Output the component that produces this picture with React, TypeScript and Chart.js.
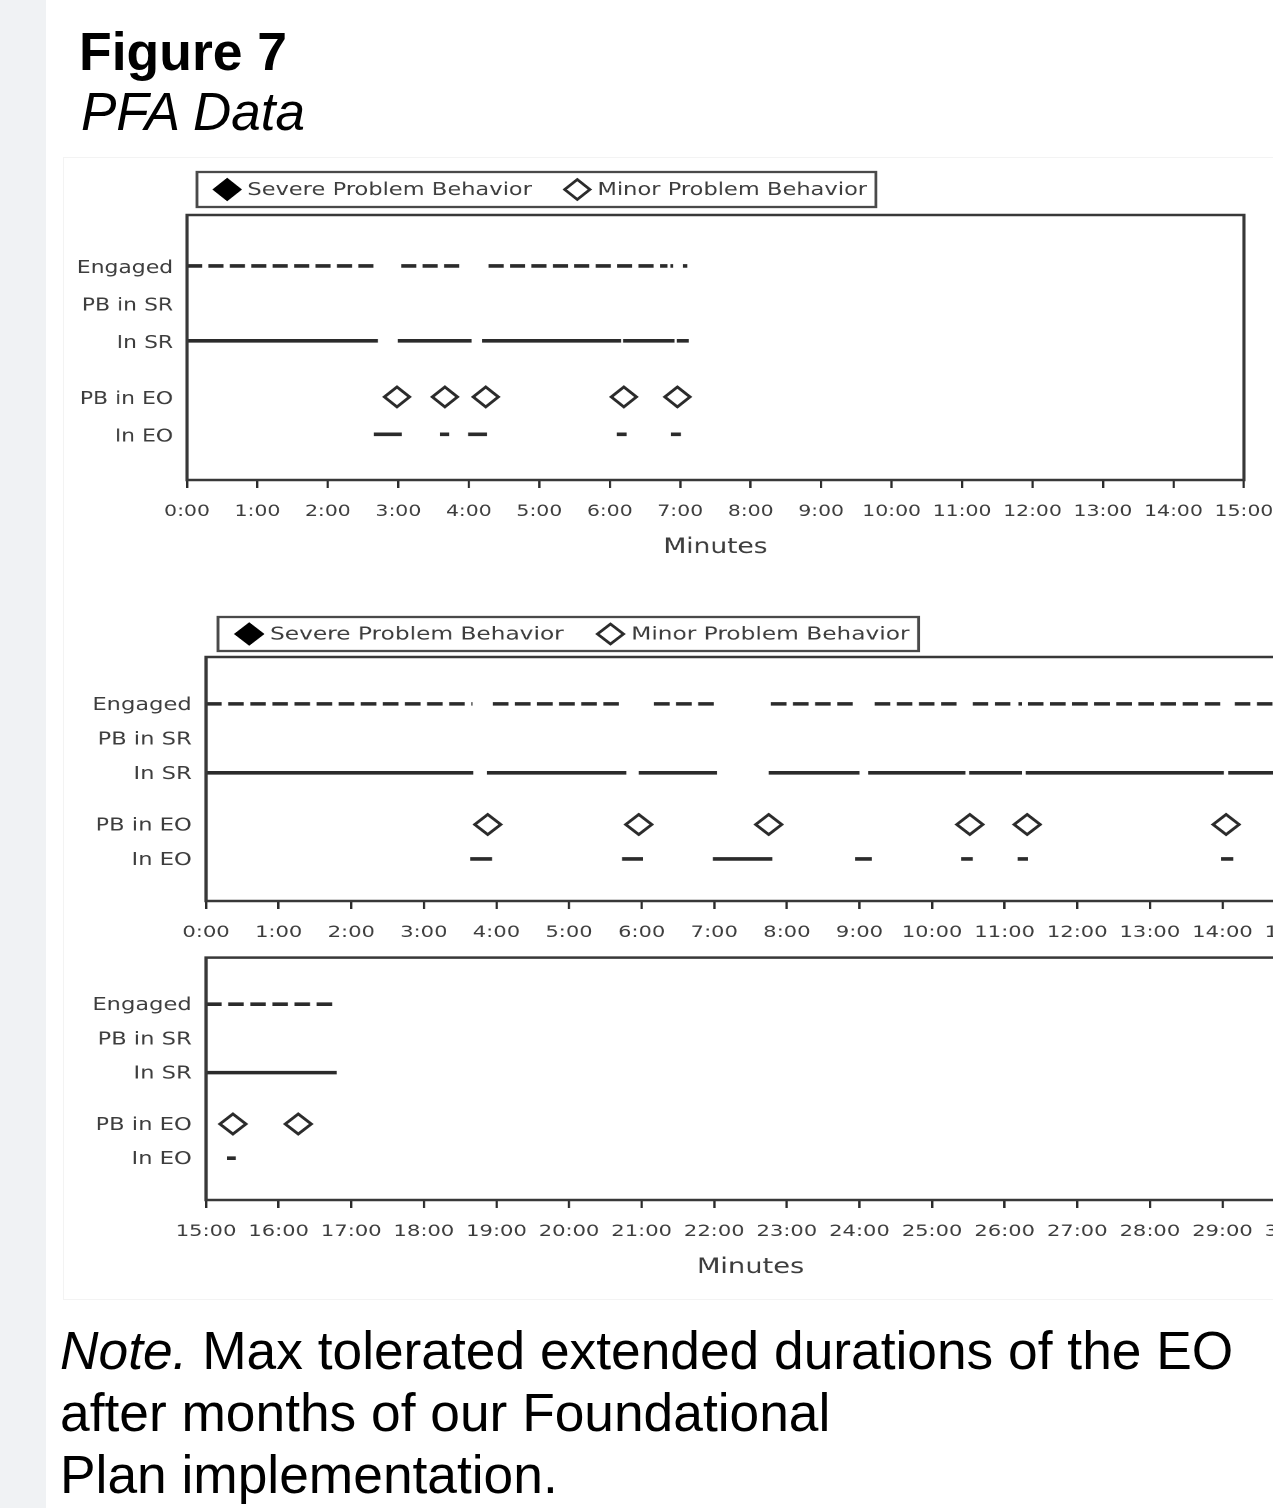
import React, { useEffect, useRef } from 'react';
import { Chart, registerables } from 'chart.js';

Chart.register(...registerables);

// ---------------- data ----------------
const ROW_LABELS = ['Engaged', 'PB in SR', 'In SR', 'PB in EO', 'In EO'];
const ROW_VALUES = [5, 4, 3, 1.5, 0.5];
const LEGEND_LABELS = ['Severe Problem Behavior', 'Minor Problem Behavior'];
const AXIS_TITLE = 'Minutes';

// Panel A: 0:00 - 15:00
const A_X_VALUES = [0, 1, 2, 3, 4, 5, 6, 7, 8, 9, 10, 11, 12, 13, 14, 15];
const A_X_LABELS = ['0:00', '1:00', '2:00', '3:00', '4:00', '5:00', '6:00', '7:00', '8:00', '9:00', '10:00', '11:00', '12:00', '13:00', '14:00', '15:00'];
const A_ENGAGED = [[0, 2.68], [3.04, 3.93], [4.28, 6.82], [6.86, 6.9], [7.04, 7.1]];
const A_PB_IN_SR: number[] = [];
const A_IN_SR = [[0, 2.71], [2.99, 4.04], [4.19, 6.16], [6.19, 6.92], [6.95, 7.12]];
const A_SEVERE: number[] = [];
const A_PB_IN_EO = [2.98, 3.66, 4.24, 6.2, 6.96];
const A_IN_EO = [[2.65, 3.05], [3.59, 3.72], [3.99, 4.26], [6.1, 6.24], [6.87, 7.01]];

// Panel B: 0:00 - 15:00
const B_X_VALUES = [0, 1, 2, 3, 4, 5, 6, 7, 8, 9, 10, 11, 12, 13, 14, 15];
const B_X_LABELS = ['0:00', '1:00', '2:00', '3:00', '4:00', '5:00', '6:00', '7:00', '8:00', '9:00', '10:00', '11:00', '12:00', '13:00', '14:00', '15:00'];
const B_ENGAGED = [[0, 3.67], [3.95, 5.77], [6.17, 7.03], [7.78, 8.97], [9.21, 10.4], [10.56, 11.1], [11.19, 11.24], [11.32, 14.02], [14.17, 15]];
const B_PB_IN_SR: number[] = [];
const B_IN_SR = [[0, 3.68], [3.87, 5.79], [5.96, 7.04], [7.75, 9.0], [9.12, 10.46], [10.51, 11.24], [11.29, 14.02], [14.08, 15]];
const B_SEVERE: number[] = [];
const B_PB_IN_EO = [3.88, 5.96, 7.75, 10.52, 11.31, 14.05];
const B_IN_EO = [[3.64, 3.94], [5.73, 6.02], [6.98, 7.8], [8.94, 9.17], [10.4, 10.56], [11.18, 11.32], [13.98, 14.15]];

// Panel C: 15:00 - 30:00
const C_X_VALUES = [15, 16, 17, 18, 19, 20, 21, 22, 23, 24, 25, 26, 27, 28, 29, 30];
const C_X_LABELS = ['15:00', '16:00', '17:00', '18:00', '19:00', '20:00', '21:00', '22:00', '23:00', '24:00', '25:00', '26:00', '27:00', '28:00', '29:00', '30:00'];
const C_ENGAGED = [[15, 16.78]];
const C_PB_IN_SR: number[] = [];
const C_IN_SR = [[15, 16.8]];
const C_SEVERE: number[] = [];
const C_PB_IN_EO = [15.37, 16.27];
const C_IN_EO = [[15.29, 15.41]];

// ---------------- styles / layout ----------------
const CHART_FONT = '"DejaVu Sans", Verdana, sans-serif';
const TEXT_COLOR = '#3d3d3d';
const MARK_COLOR = '#2b2b2b';
const FRAME_COLOR = '#383838';

type Layout = {
  left: number; top: number; width: number; height: number; stretch: number;
  yAxisW: number; padRight: number; padTop: number; xAxisH: number; labelShift: number;
  legend: null | { left: number; top: number; height: number };
  showTitle: boolean;
};

const LAYOUT_A: Layout = { left: 62, top: 160, width: 962, height: 400, stretch: 1.26, yAxisW: 99.2, padRight: 23.9, padTop: 55, xAxisH: 80, labelShift: 2.5, legend: { left: 107.1, top: 12, height: 35 }, showTitle: true };
const LAYOUT_B: Layout = { left: 62, top: 605, width: 980, height: 340, stretch: 1.3, yAxisW: 110.8, padRight: 31.5, padTop: 52, xAxisH: 44, labelShift: 1.5, legend: { left: 120, top: 12, height: 34 }, showTitle: false };
const LAYOUT_C: Layout = { left: 62, top: 945, width: 980, height: 335, stretch: 1.3, yAxisW: 110.8, padRight: 31.5, padTop: 8, xAxisH: 80, labelShift: 1.5, legend: null, showTitle: true };

type Panel = {
  xValues: number[]; xLabels: string[];
  engaged: number[][]; pbInSR: number[]; inSR: number[][]; severe: number[]; pbInEO: number[]; inEO: number[][];
  layout: Layout;
};

const PANELS: Panel[] = [
  { xValues: A_X_VALUES, xLabels: A_X_LABELS, engaged: A_ENGAGED, pbInSR: A_PB_IN_SR, inSR: A_IN_SR, severe: A_SEVERE, pbInEO: A_PB_IN_EO, inEO: A_IN_EO, layout: LAYOUT_A },
  { xValues: B_X_VALUES, xLabels: B_X_LABELS, engaged: B_ENGAGED, pbInSR: B_PB_IN_SR, inSR: B_IN_SR, severe: B_SEVERE, pbInEO: B_PB_IN_EO, inEO: B_IN_EO, layout: LAYOUT_B },
  { xValues: C_X_VALUES, xLabels: C_X_LABELS, engaged: C_ENGAGED, pbInSR: C_PB_IN_SR, inSR: C_IN_SR, severe: C_SEVERE, pbInEO: C_PB_IN_EO, inEO: C_IN_EO, layout: LAYOUT_C },
];

// ---------------- helpers ----------------
function segmentPoints(segs: number[][], y: number) {
  const pts: { x: number; y: number | null }[] = [];
  segs.forEach(([a, b], i) => {
    if (i > 0) pts.push({ x: (segs[i - 1][1] + a) / 2, y: null });
    pts.push({ x: a, y }, { x: b, y });
  });
  return pts;
}

function markerPoints(xs: number[], y: number) {
  return xs.map((x) => ({ x, y }));
}

function lineDataset(label: string, segs: number[][], y: number, dashed: boolean) {
  return {
    label,
    data: segmentPoints(segs, y),
    showLine: true,
    spanGaps: false,
    borderColor: MARK_COLOR,
    borderWidth: 3.6,
    borderDash: dashed ? [12, 5] : [],
    borderCapStyle: 'butt',
    pointRadius: 0,
    pointHoverRadius: 0,
  };
}

function markerDataset(label: string, xs: number[], y: number, fill: string, legend: boolean) {
  return {
    label,
    data: markerPoints(xs, y),
    showLine: false,
    pointStyle: 'rectRot',
    pointRadius: 10,
    pointHoverRadius: 10,
    pointBorderWidth: 2.6,
    pointBorderColor: MARK_COLOR,
    pointBackgroundColor: fill,
    legendItem: legend,
  };
}

const framePlugin = {
  id: 'frame',
  afterDraw(chart: any, _args: any, opts: any) {
    const { ctx, chartArea: a } = chart;
    ctx.save();
    ctx.strokeStyle = FRAME_COLOR;
    ctx.lineWidth = 2.5;
    ctx.strokeRect(a.left, a.top, a.right - a.left, a.bottom - a.top);
    ctx.restore();

    const lg = opts && opts.legend;
    if (!lg) return;
    const items = chart.data.datasets.filter((d: any) => d.legendItem);
    const r = 10;
    const padL = 14;
    const gapText = 6;
    const itemGap = 26;
    const padR = 7;
    const cy = lg.top + lg.height / 2;
    ctx.save();
    ctx.font = `17.9px ${CHART_FONT}`;
    ctx.textBaseline = 'middle';
    ctx.textAlign = 'left';
    let x = lg.left + padL;
    items.forEach((it: any, i: number) => {
      const cx = x + r;
      ctx.beginPath();
      ctx.moveTo(cx, cy - r);
      ctx.lineTo(cx + r, cy);
      ctx.lineTo(cx, cy + r);
      ctx.lineTo(cx - r, cy);
      ctx.closePath();
      ctx.fillStyle = it.pointBackgroundColor;
      ctx.fill();
      ctx.lineWidth = 2.5;
      ctx.strokeStyle = it.pointBackgroundColor === '#000' ? '#000' : MARK_COLOR;
      ctx.stroke();
      x = cx + r + gapText;
      ctx.fillStyle = TEXT_COLOR;
      ctx.fillText(it.label, x, cy + 1);
      x += ctx.measureText(it.label).width;
      if (i < items.length - 1) x += itemGap;
    });
    const right = x + padR;
    ctx.strokeStyle = '#4a4a4a';
    ctx.lineWidth = 2.3;
    ctx.strokeRect(lg.left, lg.top, right - lg.left, lg.height);
    ctx.restore();
  },
};

function buildConfig(p: Panel): any {
  const L = p.layout;
  const datasets = [
    lineDataset(ROW_LABELS[0], p.engaged, ROW_VALUES[0], true),
    markerDataset(ROW_LABELS[1], p.pbInSR, ROW_VALUES[1], '#fff', false),
    lineDataset(ROW_LABELS[2], p.inSR, ROW_VALUES[2], false),
    markerDataset(LEGEND_LABELS[0], p.severe, ROW_VALUES[3], '#000', true),
    markerDataset(LEGEND_LABELS[1], p.pbInEO, ROW_VALUES[3], '#fff', true),
    lineDataset(ROW_LABELS[4], p.inEO, ROW_VALUES[4], false),
  ];
  return {
    type: 'scatter',
    data: { datasets },
    plugins: [framePlugin],
    options: {
      animation: false,
      responsive: false,
      devicePixelRatio: 2,
      events: [],
      layout: { padding: { left: 0, right: L.padRight, top: L.padTop, bottom: 0 } },
      plugins: {
        legend: { display: false },
        tooltip: { enabled: false },
        frame: { legend: L.legend },
      },
      scales: {
        x: {
          type: 'linear',
          min: p.xValues[0],
          max: p.xValues[p.xValues.length - 1],
          afterBuildTicks: (s: any) => {
            s.ticks = p.xValues.map((v) => ({ value: v }));
          },
          afterFit: (s: any) => {
            s.height = L.xAxisH;
            s.paddingLeft = 0;
            s.paddingRight = 0;
          },
          border: { display: false },
          grid: { display: true, drawOnChartArea: false, drawTicks: true, tickLength: 8, color: MARK_COLOR, lineWidth: 1.8 },
          ticks: {
            autoSkip: false,
            maxRotation: 0,
            minRotation: 0,
            padding: 14,
            color: TEXT_COLOR,
            font: { family: CHART_FONT, size: 16.2 },
            callback: (_v: any, i: number) => p.xLabels[i],
          },
          title: {
            display: L.showTitle,
            text: AXIS_TITLE,
            color: TEXT_COLOR,
            font: { family: CHART_FONT, size: 21 },
            padding: { top: 0, bottom: 0 },
          },
        },
        y: {
          type: 'linear',
          min: -0.72,
          max: 6.36,
          afterBuildTicks: (s: any) => {
            s.ticks = ROW_VALUES.map((v) => ({ value: v }));
          },
          afterFit: (s: any) => {
            s.width = L.yAxisW;
            s.paddingTop = 0;
            s.paddingBottom = 0;
          },
          border: { display: false },
          grid: { display: false, drawTicks: false },
          ticks: {
            padding: 11,
            labelOffset: L.labelShift,
            color: TEXT_COLOR,
            font: { family: CHART_FONT, size: 17.4 },
            callback: (v: any) => {
              const i = ROW_VALUES.indexOf(Number(v));
              return i >= 0 ? ROW_LABELS[i] : '';
            },
          },
        },
      },
    },
  };
}

function PanelChart({ panel }: { panel: Panel }) {
  const ref = useRef<HTMLCanvasElement>(null);
  useEffect(() => {
    const canvas = ref.current;
    if (!canvas) return;
    const chart = new Chart(canvas, buildConfig(panel));
    return () => chart.destroy();
  }, [panel]);
  const L = panel.layout;
  return (
    <canvas
      ref={ref}
      width={L.width}
      height={L.height}
      style={{
        position: 'absolute',
        left: L.left,
        top: L.top,
        width: L.width * L.stretch,
        height: L.height,
      }}
    />
  );
}

const PAGE_FONT = '"Liberation Sans", Arial, Helvetica, sans-serif';

export default function App() {
  return (
    <div
      style={{
        position: 'fixed',
        left: 0,
        top: 0,
        width: 1273,
        height: 1508,
        overflow: 'hidden',
        background: '#ffffff',
        fontFamily: PAGE_FONT,
      }}
    >
      <div style={{ position: 'absolute', left: 0, top: 0, width: 46, height: 1508, background: '#f0f2f4' }} />
      <div
        style={{
          position: 'absolute',
          left: 63,
          top: 157,
          width: 1230,
          height: 1143,
          border: '1px solid #f3f3f3',
          boxSizing: 'border-box',
        }}
      />
      <div style={{ position: 'absolute', left: 79, top: 26, fontSize: 53.5, lineHeight: '52px', fontWeight: 'bold', color: '#000', whiteSpace: 'nowrap' }}>
        Figure 7
      </div>
      <div style={{ position: 'absolute', left: 81, top: 86, fontSize: 53, lineHeight: '52px', fontStyle: 'italic', color: '#000', whiteSpace: 'nowrap' }}>
        PFA Data
      </div>
      {PANELS.map((p, i) => (
        <PanelChart key={i} panel={p} />
      ))}
      <div style={{ position: 'absolute', left: 60, top: 1320, fontSize: 53.3, lineHeight: '62px', color: '#000', whiteSpace: 'nowrap' }}>
        <i>Note.</i> Max tolerated extended durations of the EO
        <br />
        after months of our Foundational
        <br />
        Plan implementation.
      </div>
    </div>
  );
}
